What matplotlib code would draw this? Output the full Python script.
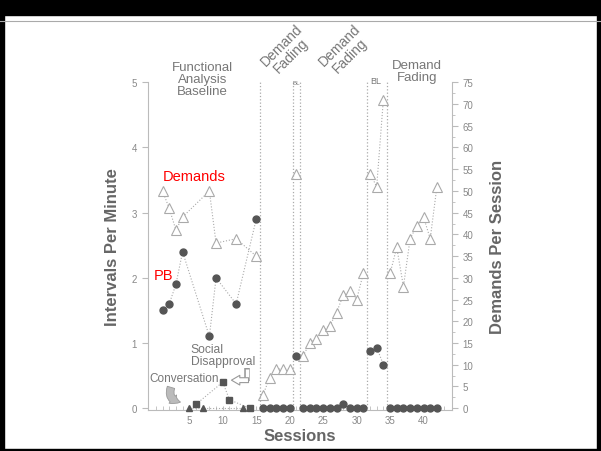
import matplotlib
matplotlib.use("Agg")
import matplotlib.pyplot as plt
from matplotlib.patches import Rectangle
from matplotlib.lines import Line2D

plt.rcParams['font.family'] = ['Liberation Sans', 'DejaVu Sans']

# functional analysis baseline (demand condition)
fa_sessions = [1, 2, 3, 4, 8, 9, 12, 15]
fa_pb = [1.5, 1.6, 1.9, 2.4, 1.1, 2.0, 1.6, 2.9]
fa_demands = [50, 46, 41, 44, 50, 38, 39, 35]
# other FA conditions
disapproval_sessions = [6, 10, 11, 14]
disapproval_pb = [0.06, 0.4, 0.13, 0.0]
conversation_sessions = [5, 7, 13]
conversation_pb = [0.0, 0.0, 0.0]
# demand fading 1
df1_sessions = [16, 17, 18, 19, 20]
df1_pb = [0, 0, 0, 0, 0]
df1_demands = [3, 7, 9, 9, 9]
# baseline 1
bl1_sessions = [21]
bl1_pb = [0.8]
bl1_demands = [54]
# demand fading 2
df2_sessions = [22, 23, 24, 25, 26, 27, 28, 29, 30, 31]
df2_pb = [0, 0, 0, 0, 0, 0, 0.07, 0, 0, 0]
df2_demands = [12, 15, 16, 18, 19, 22, 26, 27, 25, 31]
# baseline 2
bl2_sessions = [32, 33, 34]
bl2_pb = [0.87, 0.93, 0.67]
bl2_demands = [54, 51, 71]
# demand fading 3
df3_sessions = [35, 36, 37, 38, 39, 40, 41, 42]
df3_pb = [0, 0, 0, 0, 0, 0, 0, 0]
df3_demands = [31, 37, 28, 39, 42, 44, 39, 51]

phase_lines = [15.5, 20.5, 21.5, 31.5, 34.5]

fig = plt.figure(figsize=(6.01, 4.52), dpi=100)
fig.patch.set_facecolor('white')
# slide frame
fig.add_artist(Rectangle((0, 1 - 16/452), 1, 16/452, transform=fig.transFigure, color='black'))
fig.add_artist(Rectangle((0, 0), 4/601, 1, transform=fig.transFigure, color='black'))
fig.add_artist(Rectangle((1 - 4/601, 0), 4/601, 1, transform=fig.transFigure, color='black'))
fig.add_artist(Rectangle((0, 0), 1, 2/452, transform=fig.transFigure, color='black'))
fig.add_artist(Line2D([0, 1], [1 - 21.5/452] * 2, transform=fig.transFigure, color='#aaaaaa', lw=0.8))

ax = fig.add_axes([147.6/601, 1 - 410.5/452, (452.3 - 147.6)/601, (410.5 - 83.3)/452])
ax2 = ax.twinx()

ax.set_xlim(-1.23, 44.3)
ax.set_ylim(-0.02, 5.0)
ax2.set_ylim(-0.3, 75)

grey = '#bbbbbb'
dark = '#555555'
lc = '#aaaaaa'

for a in (ax, ax2):
    a.spines['top'].set_visible(False)
    for s in ('left', 'right', 'bottom'):
        a.spines[s].set_color(grey)
        a.spines[s].set_linewidth(0.8)
ax.spines['right'].set_visible(False)
ax2.spines['left'].set_visible(False)
ax2.spines['bottom'].set_visible(False)

ax.set_xticks([5, 10, 15, 20, 25, 30, 35, 40])
ax.set_xticks(range(0, 44), minor=True)
ax.set_yticks([0, 1, 2, 3, 4, 5])
ax.tick_params(axis='x', which='both', direction='in', length=3, color=grey, labelsize=7, labelcolor='#888888', pad=4)
ax.tick_params(axis='y', which='both', direction='out', length=4, color=grey, labelsize=7, labelcolor='#888888')
ax2.set_yticks(range(0, 76, 5))
ax2.set_yticks([i + 2.5 for i in range(0, 75, 5)], minor=True)
ax2.tick_params(axis='y', which='major', direction='out', length=4, color=grey, labelsize=7, labelcolor='#888888')
ax2.tick_params(axis='y', which='minor', direction='out', length=2, color=grey)

for x in phase_lines:
    ax.plot([x, x], [0, 5], color=lc, ls=':', lw=0.9, zorder=1)

tri = dict(marker='^', mfc='white', mec='#aaaaaa', ms=6.8, mew=0.8, color=lc, ls=':', lw=0.8)
circ = dict(marker='o', mfc=dark, mec=dark, ms=5, color=lc, ls=':', lw=0.8)

# demands (right axis)
for s, d in [(fa_sessions, fa_demands), (df1_sessions, df1_demands), (bl1_sessions, bl1_demands),
             (df2_sessions, df2_demands), (bl2_sessions, bl2_demands), (df3_sessions, df3_demands)]:
    ax2.plot(s, d, clip_on=False, **tri)

# problem behavior (left axis)
for s, p in [(fa_sessions, fa_pb), (df1_sessions, df1_pb), (bl1_sessions, bl1_pb),
             (df2_sessions, df2_pb), (bl2_sessions, bl2_pb), (df3_sessions, df3_pb)]:
    ax.plot(s, p, clip_on=False, zorder=3, **circ)
ax.plot(disapproval_sessions, disapproval_pb, marker='s', mfc=dark, mec=dark, ms=4.3,
        color=lc, ls=':', lw=0.8, clip_on=False, zorder=3)
ax.plot(conversation_sessions, conversation_pb, marker='^', mfc=dark, mec=dark, ms=5,
        color=lc, ls=':', lw=0.8, clip_on=False, zorder=3)
ax.set_zorder(ax2.get_zorder() + 1)
ax.patch.set_visible(False)

# axis titles
tc = '#666666'
ax.set_ylabel('Intervals Per Minute', fontsize=12, fontweight='bold', color=tc, labelpad=8.5)
ax2.set_ylabel('Demands Per Session', fontsize=12, fontweight='bold', color=tc, labelpad=12)
ax.set_xlabel('Sessions', fontsize=12, fontweight='bold', color=tc, labelpad=2)

# phase labels
pc = '#777777'
ax.text(7, 5.05, 'Functional\nAnalysis\nBaseline', ha='center', va='center', fontsize=9.5,
        color=pc, linespacing=1.0)
ax.text(19.5, 5.5, 'Demand\nFading', ha='center', va='center', fontsize=10, color=pc,
        rotation=45, linespacing=1.0)
ax.text(28.2, 5.5, 'Demand\nFading', ha='center', va='center', fontsize=10, color=pc,
        rotation=45, linespacing=1.0)
ax.text(21, 5.0, 'BL', ha='center', va='center', fontsize=4.5, color=pc)
ax.text(32.8, 5.02, 'BL', ha='center', va='center', fontsize=6.5, color=pc)
ax.text(39.0, 5.17, 'Demand\nFading', ha='center', va='center', fontsize=9.5, color=pc,
        linespacing=1.0)

# condition labels
ax.text(1.0, 3.57, 'Demands', fontsize=10.5, color='red', ha='left', va='center')
ax.text(-0.3, 2.05, 'PB', fontsize=10.5, color='red', ha='left', va='center')
ax.text(5.2, 0.82, 'Social\nDisapproval', fontsize=8.7, color=pc, ha='left', va='center',
        linespacing=1.05)
ax.text(-0.9, 0.46, 'Conversation', fontsize=8.5, color=pc, ha='left', va='center')

# hollow bent arrow next to "Social Disapproval"
ax.plot([13.6, 13.6], [0.42, 0.62], color='#999999', lw=4, solid_capstyle='butt', zorder=4)
ax.plot([13.6, 13.6], [0.44, 0.60], color='white', lw=2.4, solid_capstyle='butt', zorder=5)
ax.annotate('', xy=(11.3, 0.43), xytext=(13.85, 0.43),
            arrowprops=dict(arrowstyle='simple,head_width=0.7,head_length=0.6,tail_width=0.35',
                            fc='white', ec='#999999', lw=0.8, shrinkA=0, shrinkB=0), zorder=6)
# curved arrow next to "Conversation"
ax.annotate('', xy=(4.1, 0.09), xytext=(2.4, 0.36),
            arrowprops=dict(arrowstyle='simple,head_width=0.8,head_length=0.6,tail_width=0.55',
                            fc='#bbbbbb', ec='#999999', lw=0.6,
                            connectionstyle='arc3,rad=0.7'))

fig.savefig('out.png', dpi=100)
